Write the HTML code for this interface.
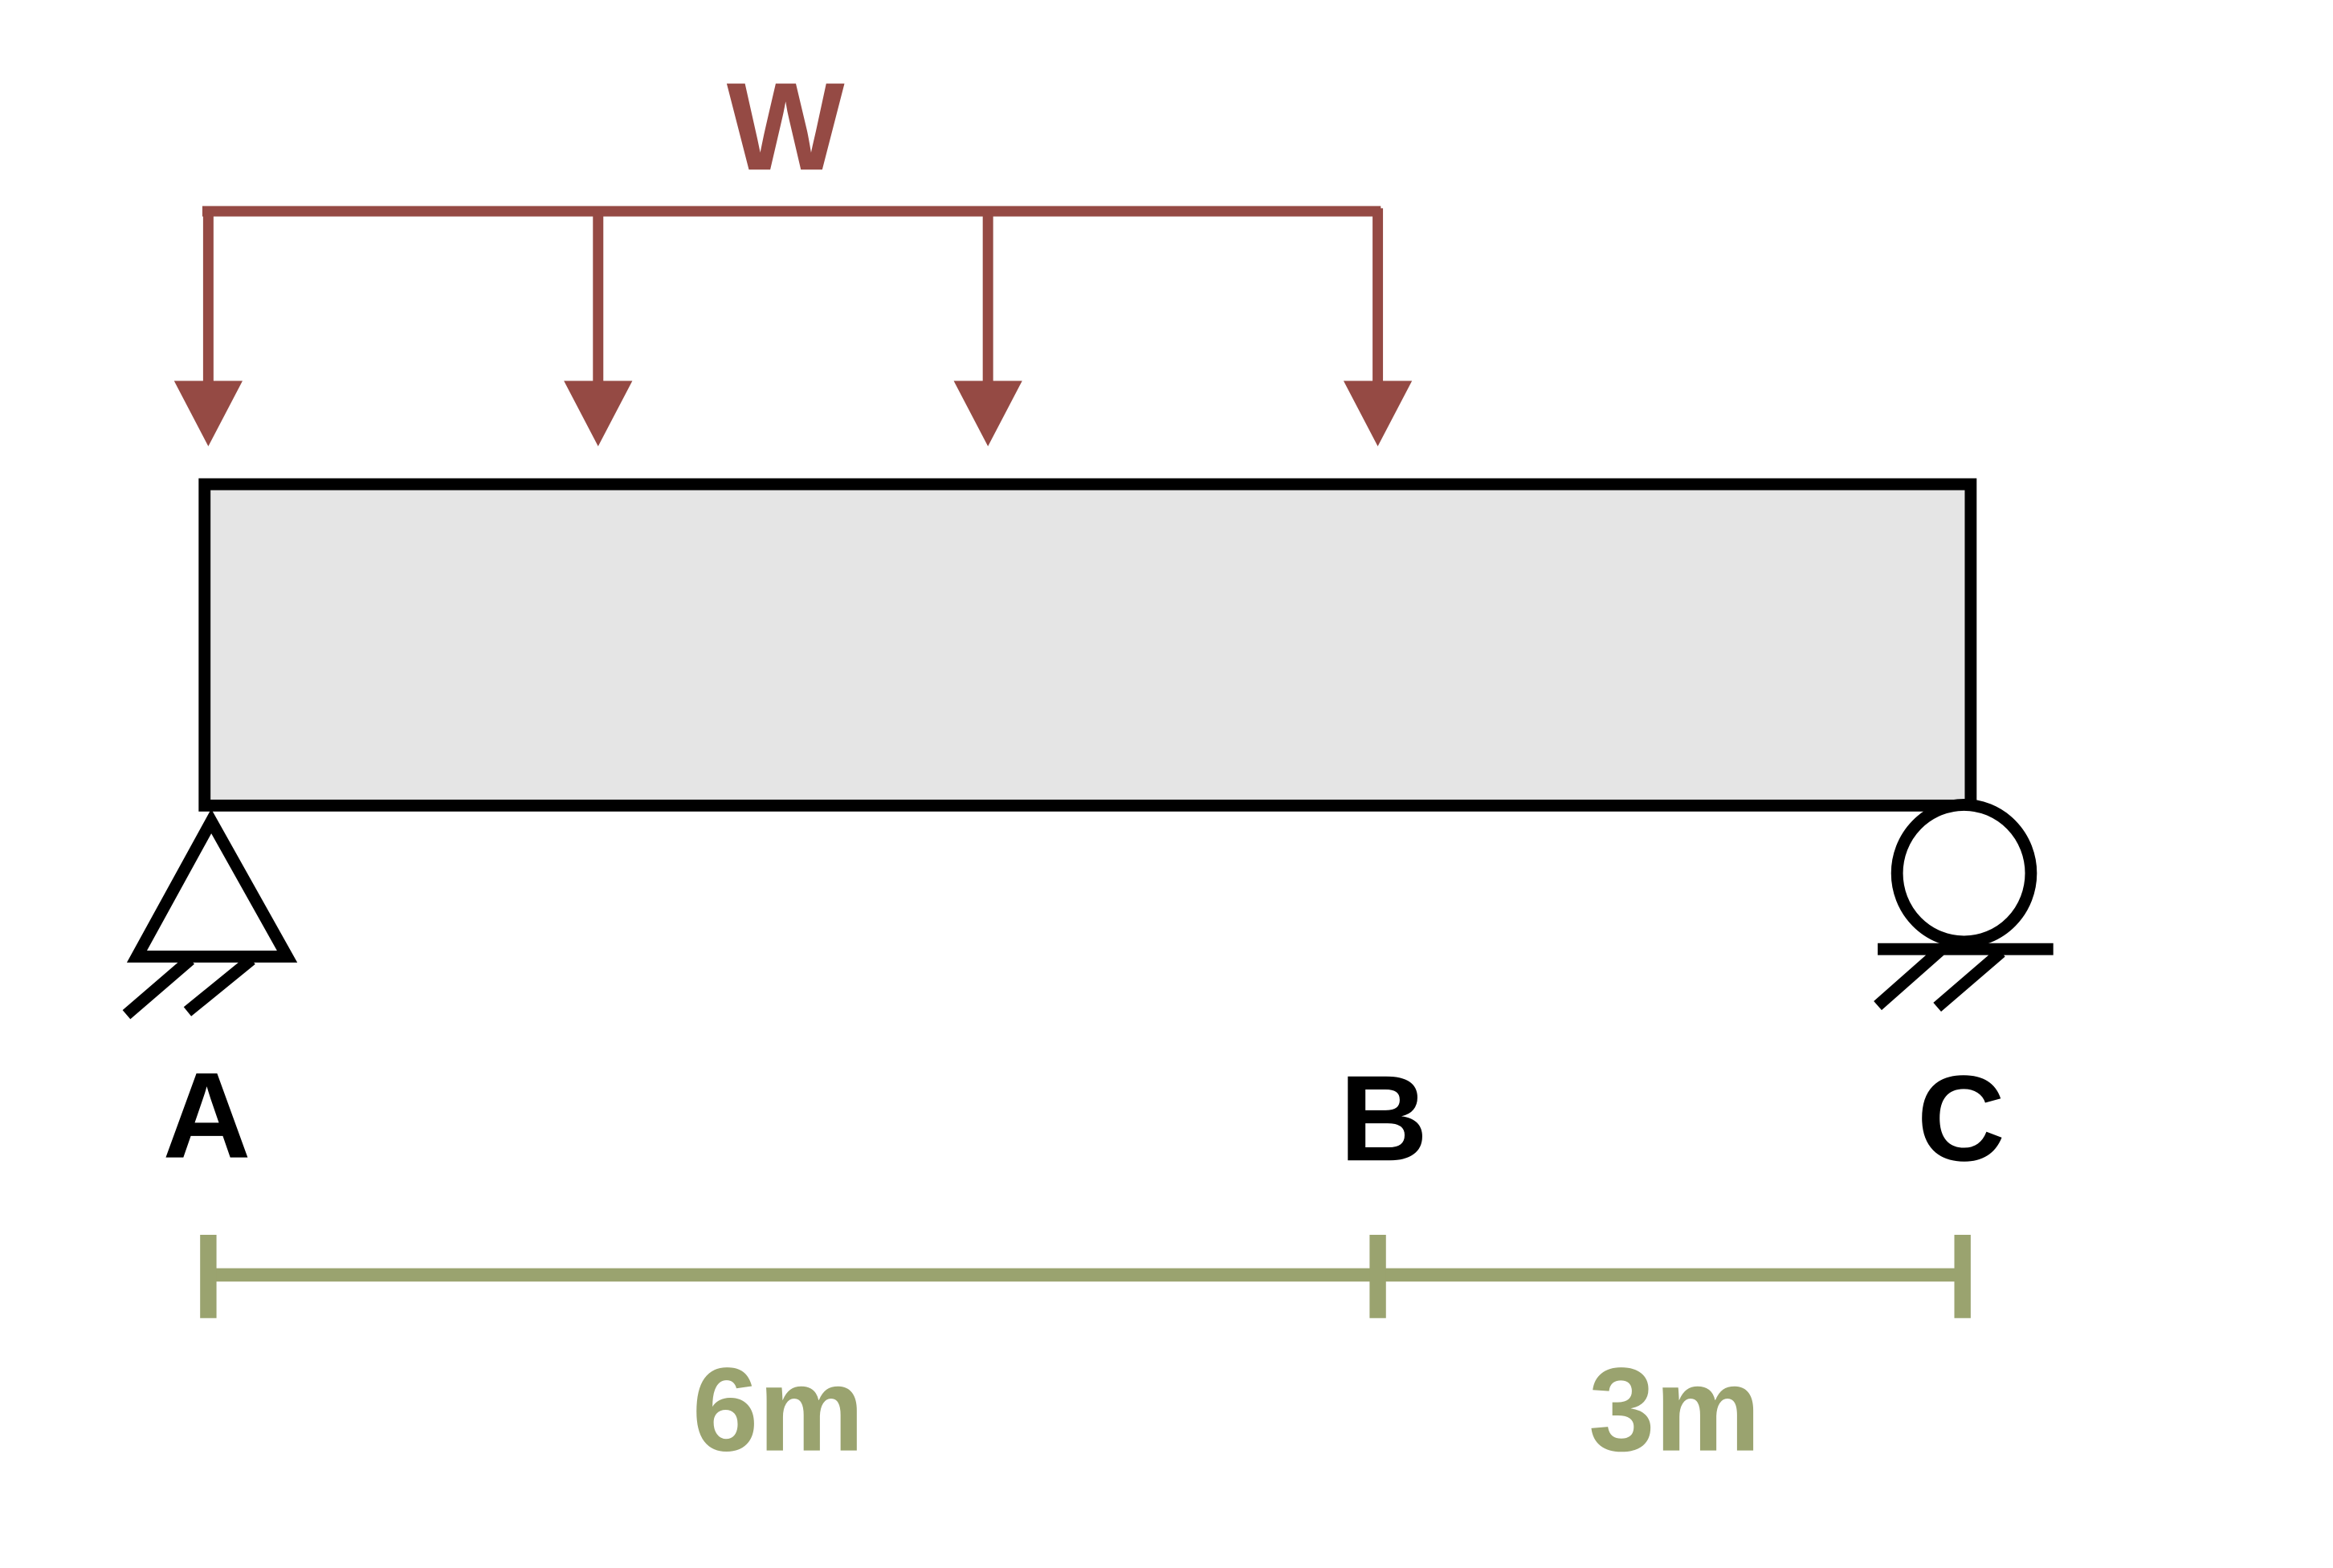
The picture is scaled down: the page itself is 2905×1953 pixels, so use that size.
<!DOCTYPE html>
<html><head><meta charset="utf-8"><style>
html,body{margin:0;padding:0;background:#fff;}
svg{display:block;}
text{font-family:"Liberation Sans",sans-serif;font-weight:bold;}
</style></head><body>
<svg id="fig" width="2905" height="1953" viewBox="0 0 1568 1054" preserveAspectRatio="none" xmlns="http://www.w3.org/2000/svg">
  <g id="loads"></g>
  <text x="528" y="114" font-size="84" fill="#954a44" text-anchor="middle">W</text>
  <rect x="137.5" y="325.5" width="1187" height="216" fill="#e5e5e5" stroke="#000" stroke-width="8"/>
  <g stroke="#000" stroke-width="8" fill="#fff">
    <polygon points="142,552 92,643 193,643"/>
    <line x1="85" y1="682" x2="128" y2="645"/>
    <line x1="126" y1="680" x2="169" y2="645"/>
  </g>
  <g stroke="#000" stroke-width="8" fill="#fff">
    <ellipse cx="1320" cy="587" rx="45" ry="46"/>
    <line x1="1262" y1="638" x2="1380" y2="638"/>
    <line x1="1262" y1="676" x2="1305" y2="638"/>
    <line x1="1302" y1="677" x2="1345" y2="640"/>
  </g>
  <g id="dims"></g>
  <text x="139" y="778" font-size="82" text-anchor="middle">A</text>
  <text x="930" y="780" font-size="82" text-anchor="middle">B</text>
  <text x="1318" y="780" font-size="82" text-anchor="middle">C</text>
</svg>
<script>
const spans = [6, 3];
const spanLabels = ["6m", "3m"];
const loadPositions = [0, 2, 4, 6];
const totalLen = spans.reduce((a,b)=>a+b,0);
const X0 = 140, X1 = 1319;
function xs(m){ return X0 + m*(X1-X0)/totalLen; }
const NS = "http://www.w3.org/2000/svg";
function mk(tag, attrs, parent){ const e=document.createElementNS(NS,tag); for(const k in attrs) e.setAttribute(k,attrs[k]); parent.appendChild(e); return e; }
const loadsG = document.getElementById('loads');
const lc = "#954a44";
const lx0 = xs(loadPositions[0]), lx1 = xs(loadPositions[loadPositions.length-1]);
const loadTopLine = mk('line',{x1:lx0-4,y1:142,x2:lx1+2,y2:142,stroke:lc,'stroke-width':7},loadsG);


loadPositions.forEach(p=>{
  const x = xs(p);
  const l = mk('line',{x1:x,y1:140,x2:x,y2:262,stroke:lc,'stroke-width':7},loadsG);
  
  
  const t = mk('polygon',{points:`${x-23},256 ${x+23},256 ${x},300`,fill:lc},loadsG);
  
  
});
const dimsG = document.getElementById('dims');
const dc = "#9aa36f";
const baseLine = mk('line',{x1:X0,y1:857,x2:X1,y2:857,stroke:dc,'stroke-width':9},dimsG);


let acc = 0;
const tickPos = [0];
spans.forEach(s=>{acc+=s; tickPos.push(acc);});
tickPos.forEach(m=>{
  const x = xs(m);
  const t = mk('line',{x1:x,y1:830,x2:x,y2:886,stroke:dc,'stroke-width':11},dimsG);
  
  
});
acc = 0;
spans.forEach((s,i)=>{
  const mid = xs(acc + s/2); acc += s;
  const tx = mk('text',{x:mid-(i===0?10:-3),y:975,'font-size':80,fill:dc,'text-anchor':'middle'},dimsG);
  tx.textContent = spanLabels[i];
  
  
});
</script>
</body></html>
